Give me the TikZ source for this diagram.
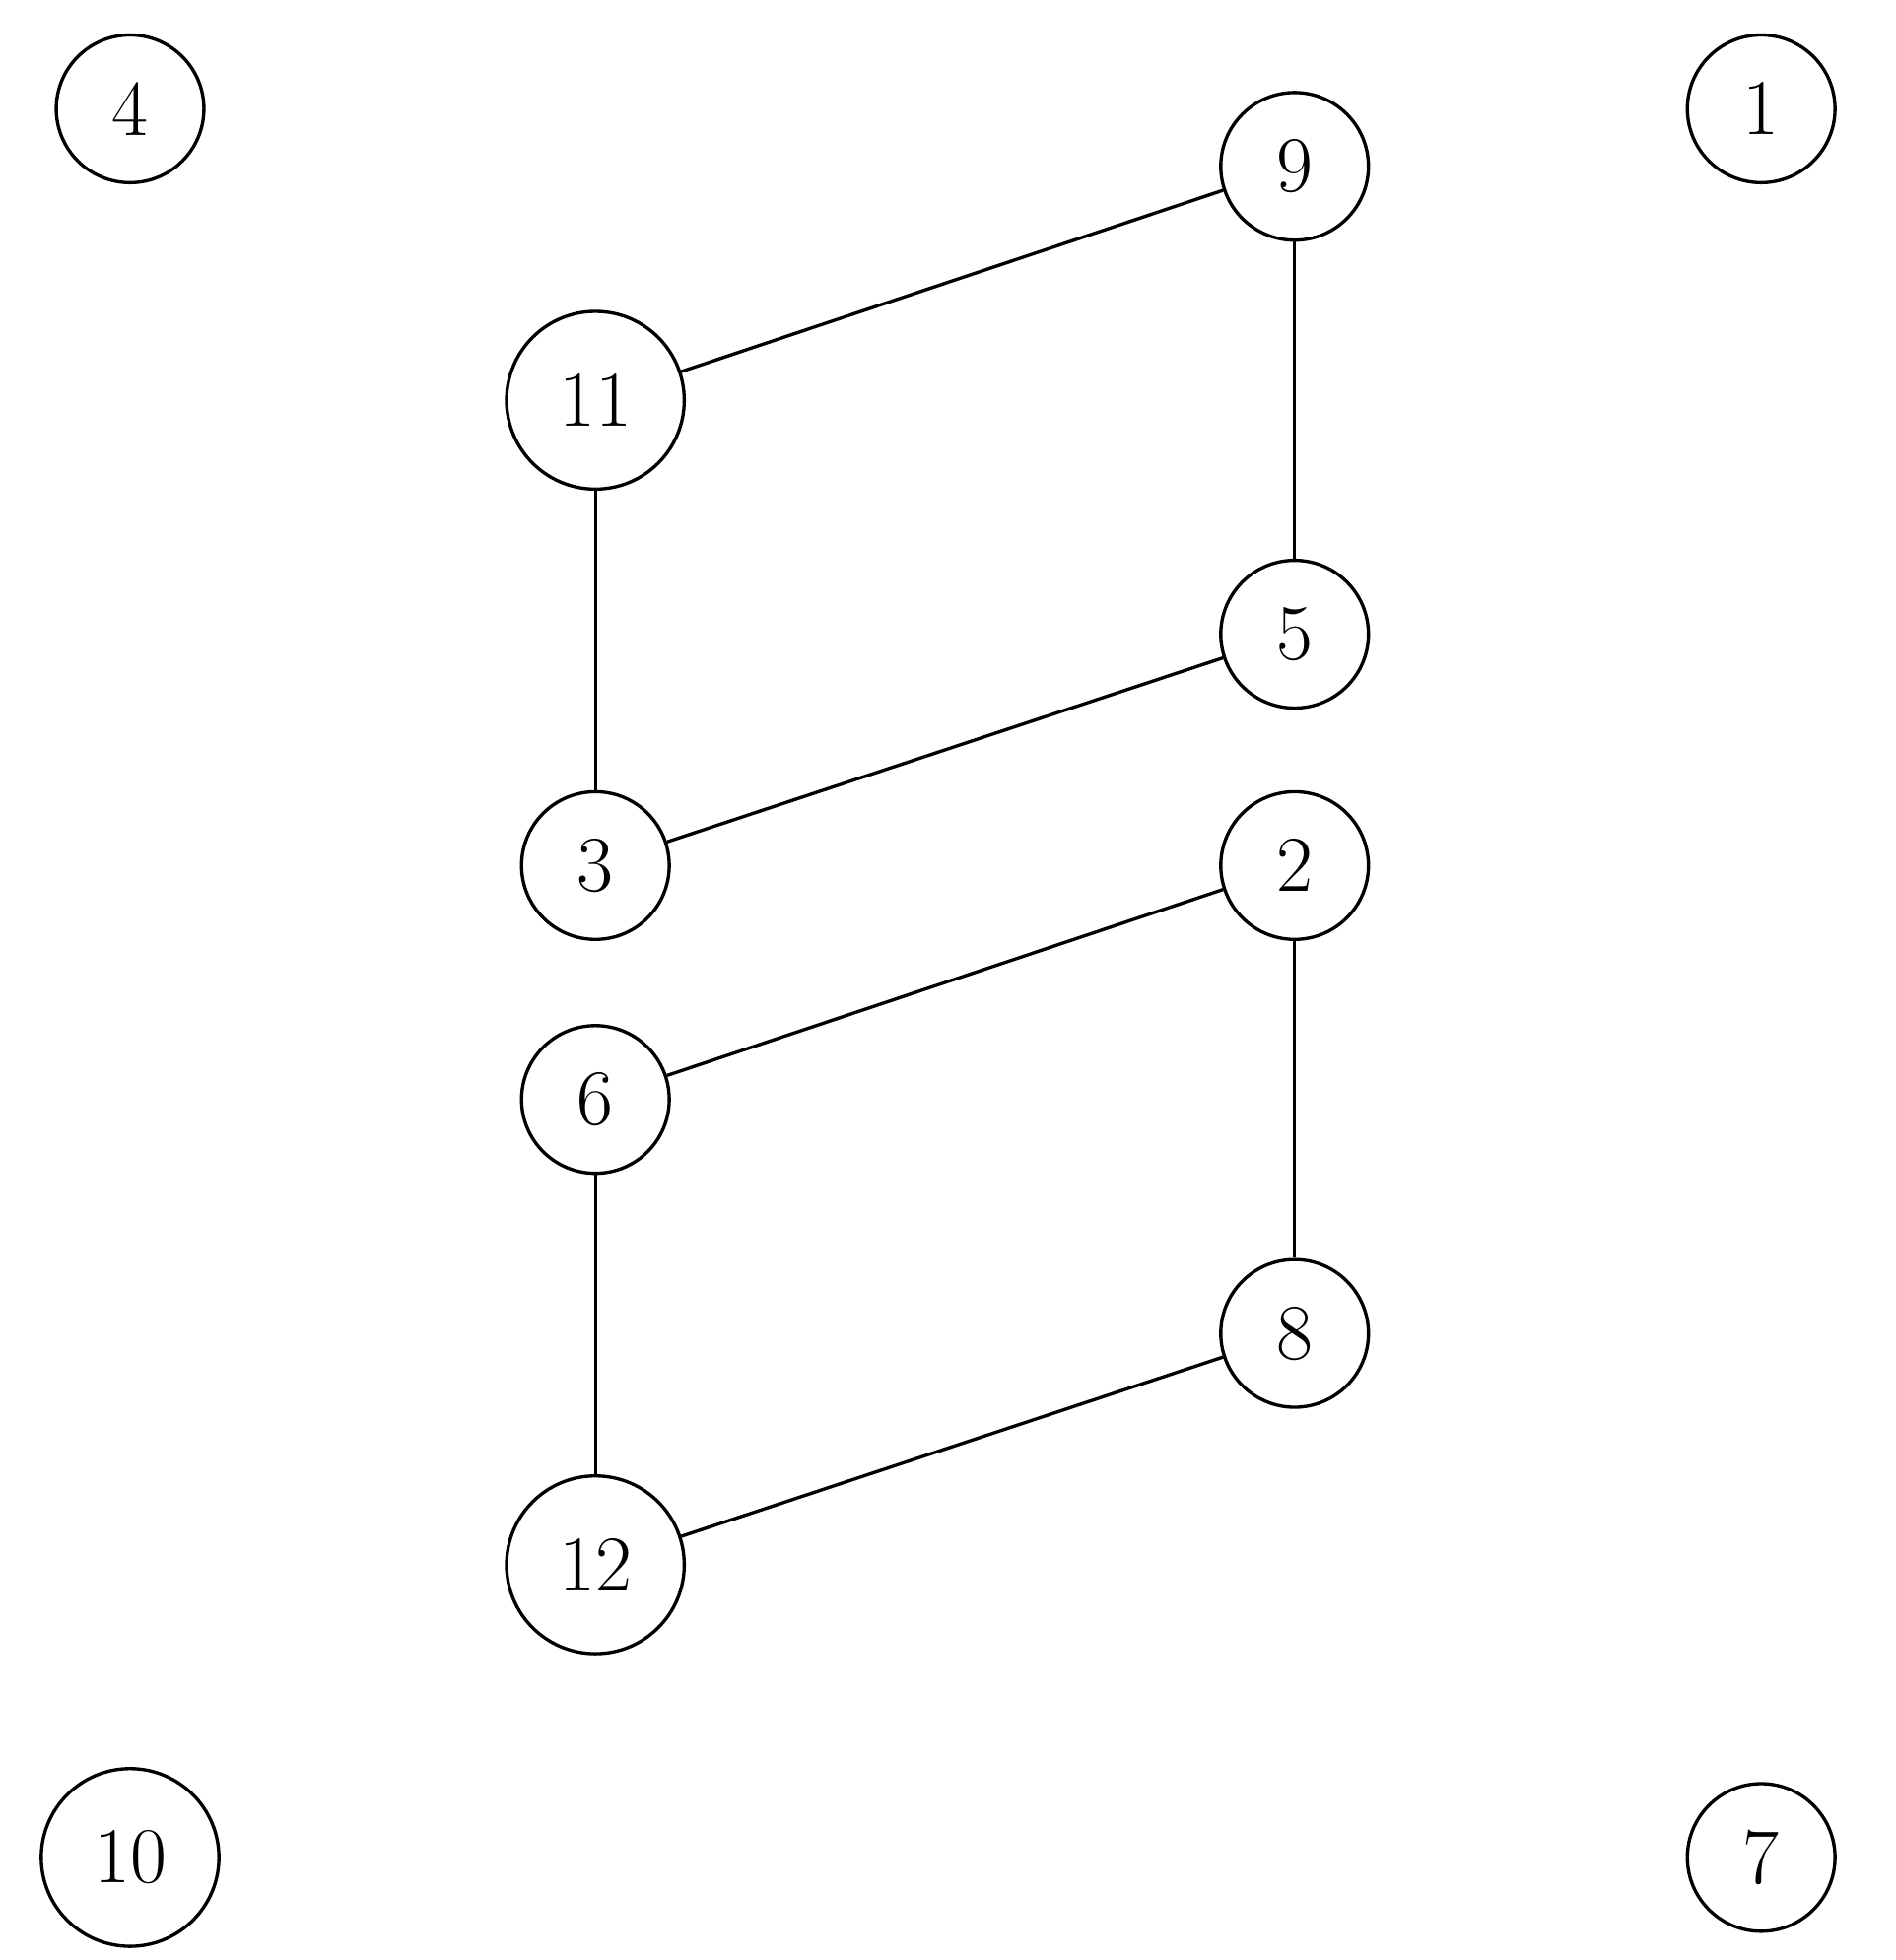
\documentclass[tikz,border=0pt]{standalone}
\begin{document}
\begin{tikzpicture}[x=0.01cm,y=-0.01cm,
  v/.style={draw,circle,line width=0.75pt,inner sep=0pt,minimum size=1.18cm,font=\fontsize{18}{20}\selectfont},
  vb/.style={v,minimum size=1.42cm},
  e/.style={line width=0.75pt}]
\useasboundingbox (0,0) rectangle (1515,1567);
\node[v] (n4) at (104,87) {4};
\node[v] (n1) at (1408,87) {1};
\node[v] (n9) at (1035,133) {9};
\node[vb] (n11) at (476,320) {11};
\node[v] (n5) at (1035,507) {5};
\node[v] (n3) at (476,692) {3};
\node[v] (n2) at (1035,692) {2};
\node[v] (n6) at (476,879) {6};
\node[v] (n8) at (1035,1066) {8};
\node[vb] (n12) at (476,1251) {12};
\node[vb] (n10) at (104,1485) {10};
\node[v] (n7) at (1408,1485) {7};
\draw[e] (n11) -- (n9);
\draw[e] (n9) -- (n5);
\draw[e] (n11) -- (n3);
\draw[e] (n3) -- (n5);
\draw[e] (n6) -- (n2);
\draw[e] (n2) -- (n8);
\draw[e] (n6) -- (n12);
\draw[e] (n12) -- (n8);
\end{tikzpicture}
\end{document}
